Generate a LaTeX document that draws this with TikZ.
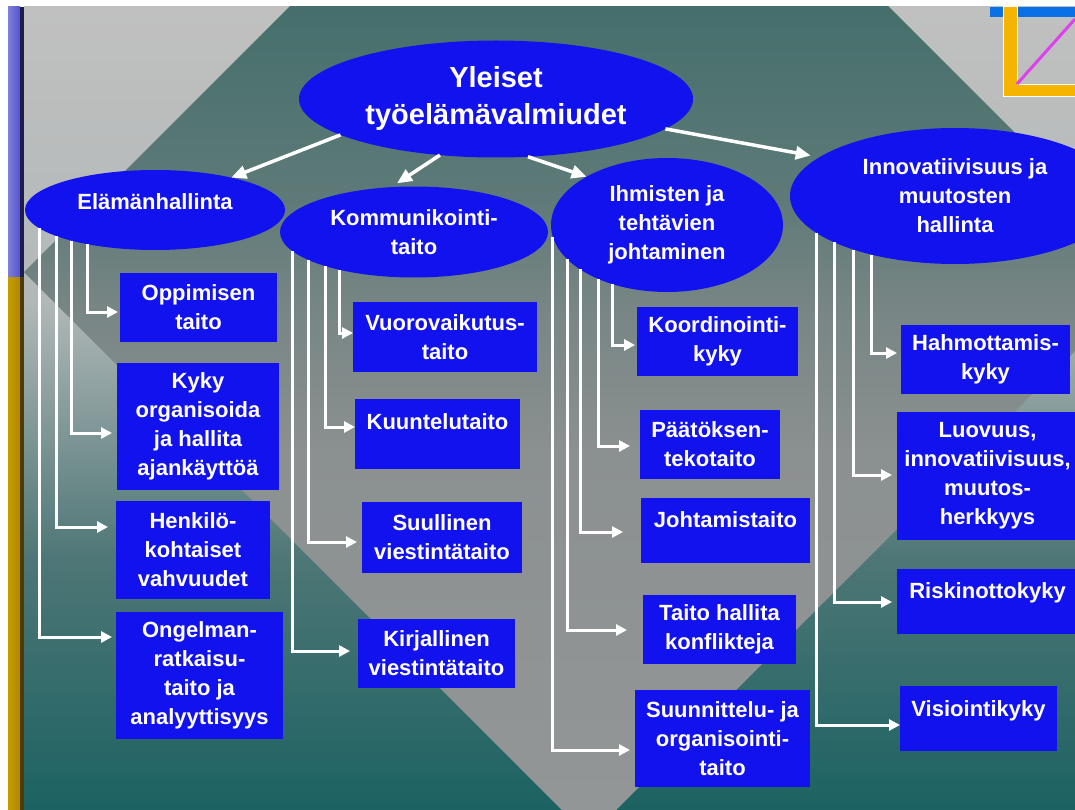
\documentclass[tikz,border=0pt]{standalone}
\usepackage{fontspec}
\setmainfont{Liberation Sans}
\usetikzlibrary{arrows.meta,shapes.geometric}
\definecolor{nodeblue}{RGB}{18,18,238}
\definecolor{bgA}{RGB}{192,192,192}
\definecolor{bgB}{RGB}{178,184,184}
\definecolor{bgC}{RGB}{78,118,118}
\definecolor{bgD}{RGB}{28,98,98}
\definecolor{dmA}{RGB}{69,111,108}
\definecolor{dmB}{RGB}{94,122,120}
\definecolor{dmC}{RGB}{118,133,132}
\definecolor{dmD}{RGB}{139,144,144}
\definecolor{dmE}{RGB}{147,150,150}
\definecolor{barblue}{RGB}{84,84,206}
\definecolor{barbluedark}{RGB}{28,28,80}
\definecolor{bargold}{RGB}{178,134,0}
\definecolor{bargolddark}{RGB}{80,60,0}
\definecolor{azure}{RGB}{10,112,230}
\definecolor{lgold}{RGB}{244,180,0}
\definecolor{mag}{RGB}{222,64,240}
\pgfdeclareverticalshading{bgshade}{100bp}{color(0bp)=(bgD); color(25bp)=(bgD); color(40.6bp)=(bgC); color(56.8bp)=(bgB); color(75bp)=(bgA); color(100bp)=(bgA)}
\pgfdeclareverticalshading{dmshade}{100bp}{color(0bp)=(dmE); color(25bp)=(dmE); color(47.4bp)=(dmD); color(56.8bp)=(dmC); color(63bp)=(dmB); color(75bp)=(dmA); color(100bp)=(dmA)}
\begin{document}
\begin{tikzpicture}[x=1pt,y=-1pt,
  ell/.style={ellipse, fill=nodeblue, inner sep=0pt, outer sep=0pt, text=white, align=center, font=\fontsize{22pt}{29pt}\selectfont\bfseries},
  box/.style={rectangle, fill=nodeblue, inner sep=0pt, outer sep=0pt, text=white, align=center, font=\fontsize{22pt}{29pt}\selectfont\bfseries},
  mainarrow/.style={draw=white, line width=3.5pt, -{Triangle[length=15pt,width=13pt]}},
  link/.style={draw=white, line width=3pt, -{Triangle[length=11pt,width=11pt]}}]
\useasboundingbox (0,0) rectangle (1075,810);
\fill[white] (0,0) rectangle (1075,810);
% background
\shade[shading=bgshade] (24,7) rectangle (1075,810);
\begin{scope}
\clip (24,272) -- (589,-293) -- (1154,272) -- (589,837) -- cycle;
\shade[shading=dmshade] (24,7) rectangle (1075,810);
\end{scope}
% left bar
\shade[left color=barblue!75!white, right color=barblue] (8,7) rectangle (20,277);
\fill[barbluedark] (20,7) rectangle (24,277);
\shade[left color=bargold!80!yellow, right color=bargold] (8,277) rectangle (20,810);
\fill[bargolddark] (20,277) rectangle (24,810);
% top-right decoration
\fill[azure] (990,7) rectangle (1075,17);
\draw[white, line width=1pt, fill=lgold] (1003,7) -- (1017,7) -- (1017,85) -- (1076,85) -- (1076,97) -- (1003,97) -- cycle;
\draw[mag, line width=3pt] (1017,84) -- (1075,19);

% ellipses
\node[ell, minimum width=394pt, minimum height=117pt, font=\fontsize{29pt}{37pt}\selectfont\bfseries] (e0) at (496,99) {Yleiset\\työelämävalmiudet};
\node[ell, minimum width=260pt, minimum height=80pt] (e1) at (155,210) {Elämänhallinta\\[-13pt]\mbox{}};
\node[ell, minimum width=268pt, minimum height=91pt] (e2) at (414,232) {Kommunikointi-\\taito};
\node[ell, minimum width=232pt, minimum height=134pt] (e3) at (667,225) {Ihmisten ja\\tehtävien\\johtaminen};
\node[ell, minimum width=330pt, minimum height=136pt] (e4) at (955,196) {Innovatiivisuus ja\\muutosten\\hallinta};

% boxes
\node[box, minimum width=157pt, minimum height=69pt] (b11) at (198.5,307.5) {Oppimisen\\taito};
\node[box, minimum width=162pt, minimum height=127pt] (b12) at (198,426.5) {Kyky\\organisoida\\ja hallita\\ajankäyttöä};
\node[box, minimum width=154pt, minimum height=98pt] (b13) at (193,550) {Henkilö-\\kohtaiset\\vahvuudet};
\node[box, minimum width=167pt, minimum height=127pt] (b14) at (199.5,675.5) {Ongelman-\\ratkaisu-\\taito ja\\analyyttisyys};

\node[box, minimum width=184pt, minimum height=70pt] (b21) at (445,337) {Vuorovaikutus-\\taito};
\node[box, minimum width=165pt, minimum height=70pt] (b22) at (437.5,434) {Kuuntelutaito\\[-5pt]\mbox{}};
\node[box, minimum width=160pt, minimum height=71pt] (b23) at (442,537.5) {Suullinen\\viestintätaito};
\node[box, minimum width=157pt, minimum height=69pt] (b24) at (436.5,653.5) {Kirjallinen\\viestintätaito};

\node[box, minimum width=161pt, minimum height=69pt] (b31) at (717.5,341.5) {Koordinointi-\\kyky};
\node[box, minimum width=140pt, minimum height=69pt] (b32) at (710,444.5) {Päätöksen-\\tekotaito};
\node[box, minimum width=169pt, minimum height=65pt] (b33) at (725.5,530.5) {Johtamistaito\\[-8pt]\mbox{}};
\node[box, minimum width=153pt, minimum height=69pt] (b34) at (719.5,629.5) {Taito hallita\\konflikteja};
\node[box, minimum width=175pt, minimum height=97pt] (b35) at (722.5,738.5) {Suunnittelu- ja\\organisointi-\\taito};

\node[box, minimum width=169pt, minimum height=69pt] (b41) at (985.5,359.5) {Hahmottamis-\\kyky};
\node[box, minimum width=181pt, minimum height=128pt] (b42) at (987.5,476) {Luovuus,\\innovatiivisuus,\\muutos-\\herkkyys};
\node[box, minimum width=181pt, minimum height=65pt] (b43) at (987.5,601.5) {Riskinottokyky\\[-8pt]\mbox{}};
\node[box, minimum width=157pt, minimum height=65pt] (b44) at (978.5,718.5) {Visiointikyky\\[-10pt]\mbox{}};

% main arrows
\draw[mainarrow] (e0.193.3) -- (e1.23.2);
\draw[mainarrow, shorten >=7pt] (e0.225.5) -- (e2.117.4);
\draw[mainarrow] (e0.299.7) -- (e3.149.2);
\draw[mainarrow, shorten >=9pt] (e0.350.5) -- (e4.164.2);

% group 1
\draw[link, shorten >=2pt] (e1.207.1) |- ([yshift=-39pt]b11.north west);
\draw[link, shorten >=5pt] (e1.200.4) |- ([yshift=-70pt]b12.north west);
\draw[link, shorten >=8pt] (e1.195.0) |- ([yshift=-26pt]b13.north west);
\draw[link, shorten >=4pt] (e1.189.9) |- ([yshift=-25pt]b14.north west);
% group 2
\draw[link] (e2.207.6) |- ([yshift=-31pt]b21.north west);
\draw[link] (e2.201.7) |- ([yshift=-28pt]b22.north west);
\draw[link, shorten >=5pt] (e2.195.1) |- ([yshift=-40pt]b23.north west);
\draw[link, shorten >=8pt] (e2.189.2) |- ([yshift=-32pt]b24.north west);
% group 3
\draw[link, shorten >=2pt] (e3.227.7) |- ([yshift=-38pt]b31.north west);
\draw[link, shorten >=10pt] (e3.218.0) |- ([yshift=-36pt]b32.north west);
\draw[link, shorten >=18pt] (e3.207.6) |- ([yshift=-34pt]b33.north west);
\draw[link, shorten >=16pt] (e3.199.4) |- ([yshift=-35pt]b34.north west);
\draw[link, shorten >=5pt] (e3.186.2) |- ([yshift=-60pt]b35.north west);
% group 4
\draw[link, shorten >=4pt] (e4.215.7) |- ([yshift=-28pt]b41.north west);
\draw[link, shorten >=5pt] (e4.208.0) |- ([yshift=-63pt]b42.north west);
\draw[link, shorten >=5pt] (e4.201.6) |- ([yshift=-33pt]b43.north west);
\draw[link] (e4.195.1) |- ([yshift=-39pt]b44.north west);
\end{tikzpicture}
\end{document}
